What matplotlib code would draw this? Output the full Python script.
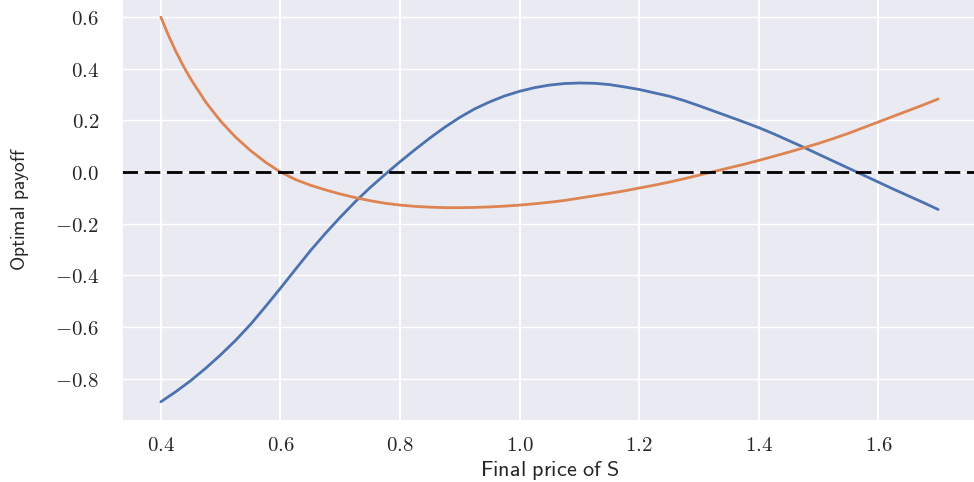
import numpy as np
import matplotlib
matplotlib.use('Agg')
import matplotlib.pyplot as plt
from matplotlib.ticker import FuncFormatter
import seaborn as sns

# final price grid and the two payoff curves
price = [0.400, 0.425, 0.450, 0.475, 0.500, 0.525, 0.550, 0.575, 0.600,
         0.625, 0.650, 0.675, 0.700, 0.725, 0.750, 0.775, 0.800, 0.825,
         0.850, 0.875, 0.900, 0.925, 0.950, 0.975, 1.000, 1.025, 1.050,
         1.075, 1.100, 1.125, 1.150, 1.175, 1.200, 1.225, 1.250, 1.275,
         1.300, 1.325, 1.350, 1.375, 1.400, 1.425, 1.450, 1.475, 1.500,
         1.525, 1.550, 1.575, 1.600, 1.625, 1.650, 1.675, 1.700]

payoff_blue = [-0.890, -0.851, -0.808, -0.760, -0.708, -0.652, -0.590, -0.521,
               -0.450, -0.377, -0.305, -0.238, -0.175, -0.115, -0.060, -0.009,
               0.040, 0.087, 0.132, 0.174, 0.212, 0.245, 0.272, 0.295, 0.313,
               0.327, 0.337, 0.343, 0.345, 0.344, 0.339, 0.330, 0.320, 0.307,
               0.294, 0.277, 0.257, 0.236, 0.215, 0.194, 0.172, 0.148, 0.122,
               0.096, 0.069, 0.042, 0.015, -0.012, -0.039, -0.066, -0.092,
               -0.118, -0.145]

# orange curve bends sharply near 0.4, so it gets a few extra readings there
price_orange_head = [0.4000, 0.4125, 0.4250, 0.4375]
payoff_orange_head = [0.600, 0.530, 0.4675, 0.411]
payoff_orange = [0.360, 0.271, 0.197, 0.135, 0.083, 0.038, 0.000, -0.029,
                 -0.051, -0.069, -0.085, -0.099, -0.111, -0.121, -0.128,
                 -0.133, -0.136, -0.138, -0.138, -0.137, -0.135, -0.132,
                 -0.128, -0.123, -0.117, -0.110, -0.101, -0.092, -0.083,
                 -0.073, -0.062, -0.051, -0.039, -0.026, -0.012, 0.002, 0.016,
                 0.030, 0.045, 0.061, 0.077, 0.094, 0.111, 0.130, 0.150, 0.172,
                 0.194, 0.216, 0.238, 0.260, 0.283]

sns.set_theme(style='darkgrid')
plt.rcParams['mathtext.fontset'] = 'cm'

fig = plt.figure(figsize=(9.74, 4.82), dpi=100)
ax = fig.add_axes([0.1253, 0.1266, 0.8778, 0.8776])

ax.plot(price, payoff_blue, color='#4C72B0', lw=2.0, solid_joinstyle='round')
ax.plot(price_orange_head + price[2:], payoff_orange_head + payoff_orange,
        color='#DD8452', lw=2.0, solid_joinstyle='round')
ax.axhline(0, color='black', ls=(0, (5.6, 2.4)), lw=2.0)

# vertical grid lines a bit heavier than horizontal ones (as in the reference)
ax.grid(axis='x', lw=1.5)
ax.grid(axis='y', lw=1.0)

fmt = FuncFormatter(lambda v, p: r'$%.1f$' % v)
ax.xaxis.set_major_formatter(fmt)
ax.yaxis.set_major_formatter(fmt)
ax.tick_params(axis='both', labelsize=15)
ax.tick_params(axis='y', pad=10.5)
ax.tick_params(axis='x', pad=4)

ax.set_xlabel(r'$\mathsf{Final\ price\ of\ S}$', fontsize=16, labelpad=3)
ax.set_ylabel(r'$\mathsf{Optimal\ payoff}$', fontsize=14, labelpad=17)

plt.savefig('out.png', dpi=100)
